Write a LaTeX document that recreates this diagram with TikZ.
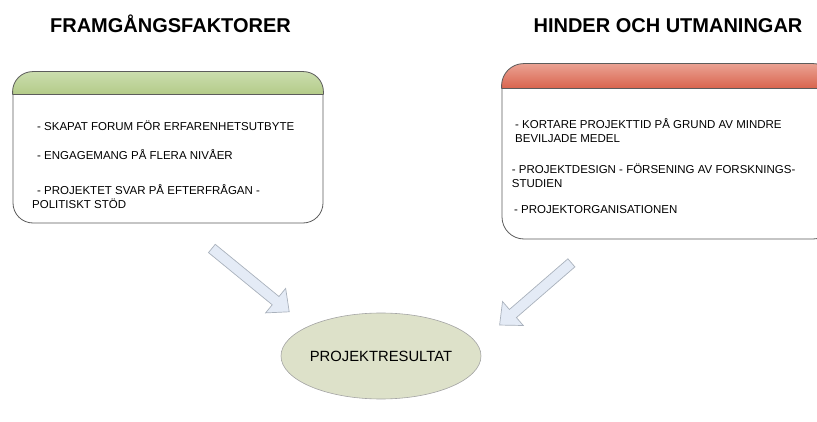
\documentclass[tikz,border=0pt]{standalone}
\usepackage{fontspec}
\setmainfont{Liberation Sans}
\usetikzlibrary{shapes.geometric, shapes.arrows}

\definecolor{boxline}{HTML}{5C5C5C}
\definecolor{greentop}{HTML}{CBDDAE}
\definecolor{greenbot}{HTML}{B3CB88}
\definecolor{redtop}{HTML}{EAA293}
\definecolor{redbot}{HTML}{D9634D}
\definecolor{arrowfill}{HTML}{E4EBF6}
\definecolor{arrowline}{HTML}{A9B1BC}
\definecolor{resfill}{HTML}{DDE1C9}
\definecolor{resline}{HTML}{A4A4A4}

\begin{document}
\begin{tikzpicture}[x=1pt,y=1pt,
  title/.style={font=\fontsize{20}{24}\selectfont\bfseries, anchor=base, inner sep=0pt},
  panel/.style={draw=boxline, fill=white, line width=0.8pt, rounded corners=#1},
  item/.style={font=\fontsize{11.5}{14}\selectfont, align=left, anchor=base west, inner sep=0pt},
  blockarrow/.style={single arrow, draw=arrowline, fill=arrowfill, line width=0.7pt,
    inner sep=5pt, single arrow head extend=10.5pt, single arrow tip angle=84},
  result/.style={ellipse, draw=resline, fill=resfill, line width=0.6pt, inner xsep=-5pt,
    minimum width=200pt, minimum height=86pt, font=\fontsize{14.8}{18}\selectfont}]

\useasboundingbox (0,0) rectangle (817,421);
\clip (0,0) rectangle (817,421);

% titles
  \node[title] (succtitle) at (170.5,388) {FRAMGÅNGSFAKTORER};
  \node[title] (hindtitle) at (668,388) {HINDER OCH UTMANINGAR};

% the two boxes
  \node[panel=20pt, minimum width=310pt, minimum height=151pt] (succ) at (168,273.5) {};
  \node[panel=22pt, minimum width=333pt, minimum height=175pt] (hind) at (668.5,269.5) {};

% coloured headers
  \path[draw=boxline, line width=0.8pt, top color=greentop, bottom color=greenbot, rounded corners=20pt]
    ([yshift=-23pt]succ.north west) -- (succ.north west) -- (succ.north east) -- ([yshift=-23pt]succ.north east);
  \draw[boxline, line width=0.8pt] ([yshift=-23pt]succ.north west) -- ([yshift=-23pt]succ.north east);
  \path[draw=boxline, line width=0.8pt, top color=redtop, bottom color=redbot, rounded corners=22pt]
    ([yshift=-25pt]hind.north west) -- (hind.north west) -- (hind.north east) -- ([yshift=-25pt]hind.north east);
  \draw[boxline, line width=0.8pt] ([yshift=-25pt]hind.north west) -- ([yshift=-25pt]hind.north east);

% items
  \node[item] (s1) at (37,290) {- SKAPAT FORUM FÖR ERFARENHETSUTBYTE};
  \node[item] (s2) at (37,261) {- ENGAGEMANG PÅ FLERA NIVÅER};
  \node[item] (s3) at (32,212) {\hspace*{5pt}- PROJEKTET SVAR PÅ EFTERFRÅGAN -\\POLITISKT STÖD};

  \node[item] (h1) at (515,278) {- KORTARE PROJEKTTID PÅ GRUND AV MINDRE\\BEVILJADE MEDEL};
  \node[item] (h2) at (511.7,233) {- PROJEKTDESIGN - FÖRSENING AV FORSKNINGS-\\STUDIEN};
  \node[item] (h3) at (514,207) {- PROJEKTORGANISATIONEN};

% result and arrows
  \node[result] (res) at (381,65) {PROJEKTRESULTAT};
  \node[blockarrow, minimum height=100pt, rotate=-39.3] (succarrow) at (248.25,142.75) {};
  \node[blockarrow, minimum height=95pt, rotate=-139.1] (hindarrow) at (537.75,129) {};

\end{tikzpicture}
\end{document}
